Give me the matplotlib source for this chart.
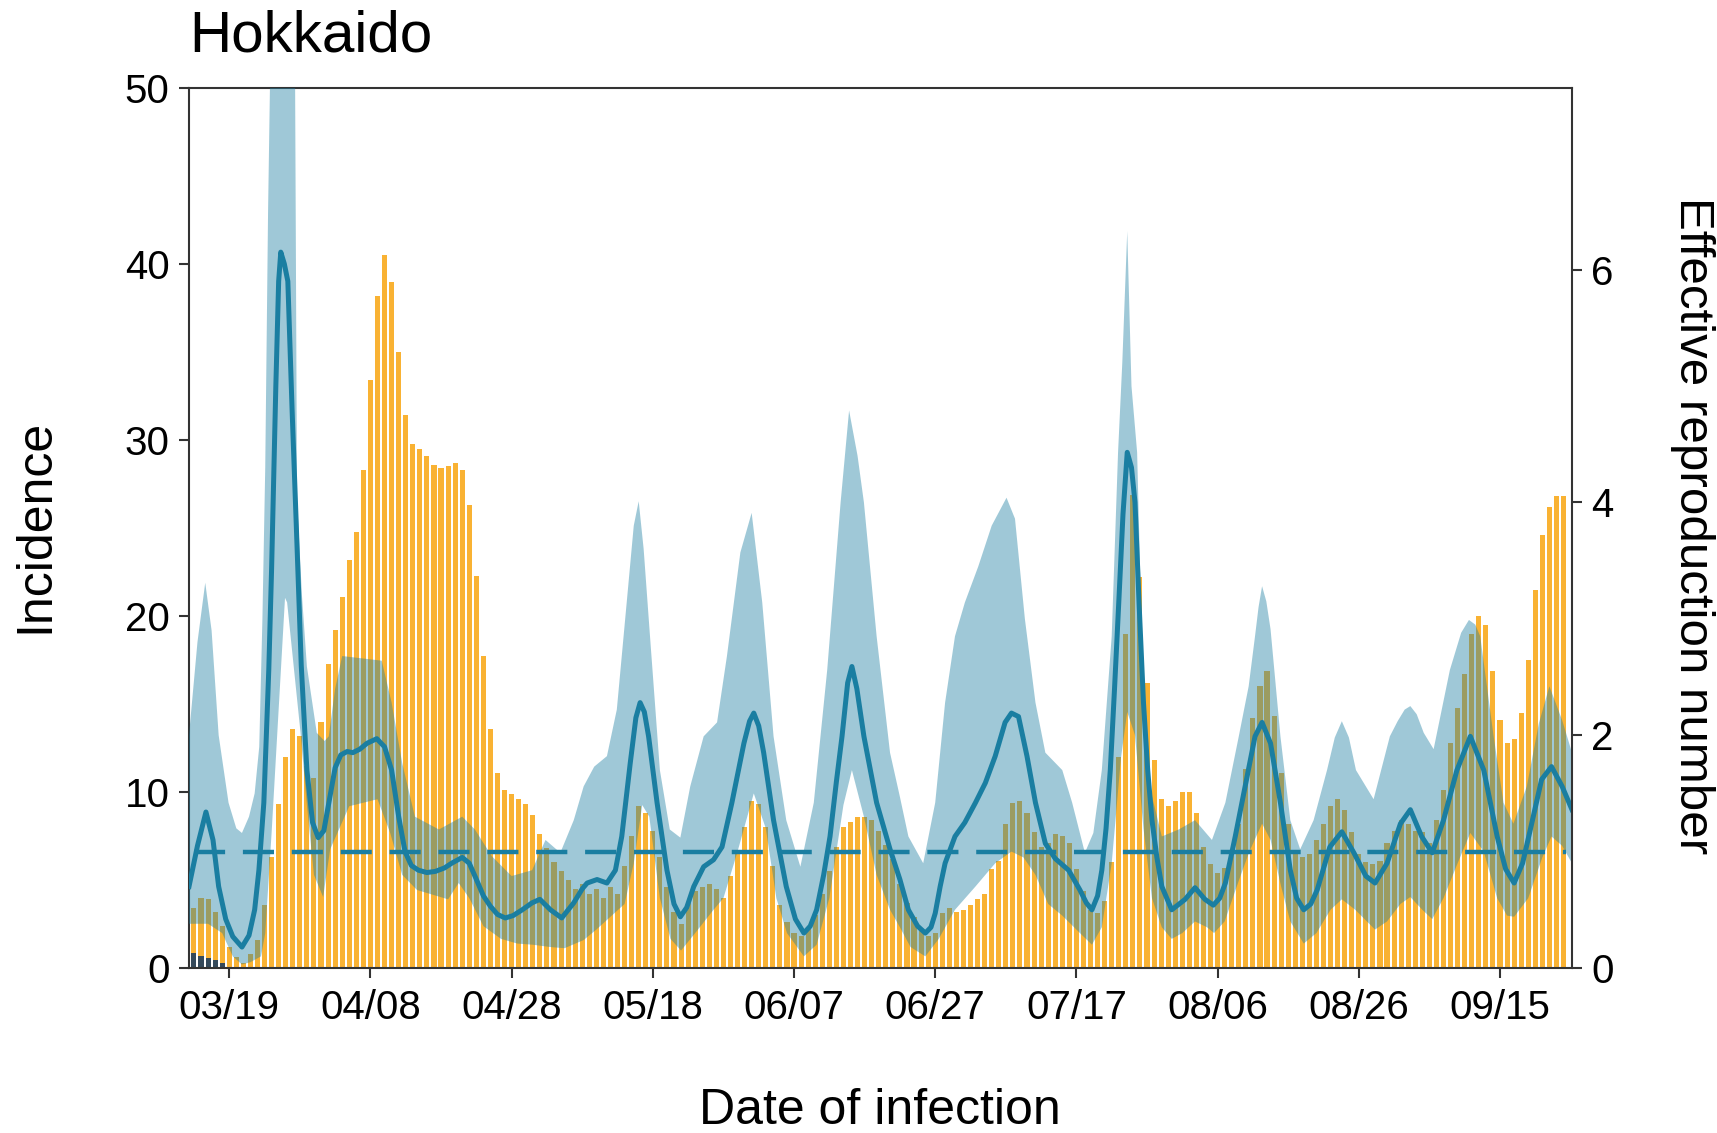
import datetime as dt
import matplotlib
matplotlib.use('Agg')
import matplotlib.pyplot as plt

plt.rcParams['font.family'] = ['Liberation Sans', 'DejaVu Sans']

# day 0 = 03/19
origin = dt.date(2020, 3, 19)

# daily incidence by date of infection (days -5 .. 189)
inc_day = list(range(-5, 190))
incidence = [
    3.4, 4.0, 3.9, 3.2, 2.4, 1.2, 0.6, 0.3, 0.8, 1.6,
    3.6, 6.3, 9.3, 12.0, 13.6, 13.2, 11.5, 10.8, 14.0, 17.3,
    19.2, 21.1, 23.2, 24.8, 28.3, 33.4, 38.2, 40.5, 39.0, 35.0,
    31.4, 29.8, 29.5, 29.1, 28.6, 28.4, 28.5, 28.7, 28.3, 26.3,
    22.3, 17.7, 13.6, 11.1, 10.1, 9.9, 9.6, 9.3, 8.7, 7.6,
    6.8, 6.0, 5.5, 5.0, 4.5, 4.8, 4.2, 4.5, 4.0, 4.6,
    4.2, 5.8, 7.5, 9.2, 8.8, 7.8, 6.3, 4.6, 3.2, 2.5,
    3.7, 4.4, 4.6, 4.8, 4.5, 4.0, 5.2, 6.5, 8.0, 9.5,
    9.3, 8.0, 5.8, 3.6, 2.6, 2.0, 1.8, 2.3, 3.0, 4.2,
    5.5, 6.9, 8.0, 8.3, 8.6, 8.6, 8.4, 7.8, 7.0, 6.2,
    4.8, 3.7, 2.9, 2.2, 1.8, 2.0, 3.1, 3.4, 3.2, 3.3,
    3.6, 3.9, 4.2, 5.6, 6.1, 8.2, 9.4, 9.5, 8.8, 7.7,
    6.9, 7.1, 7.6, 7.5, 7.1, 5.6, 4.4, 3.3, 3.1, 3.8,
    6.0, 12.0, 19.0, 26.9, 22.2, 16.2, 11.8, 9.6, 9.2, 9.5,
    10.0, 10.0, 8.8, 6.9, 5.9, 5.4, 5.7, 6.5, 8.2, 11.3,
    14.2, 16.0, 16.9, 14.3, 11.1, 8.2, 6.7, 6.3, 6.5, 7.3,
    8.2, 9.2, 9.6, 9.0, 7.7, 6.5, 6.0, 5.9, 6.1, 7.1,
    7.8, 8.4, 8.2, 7.8, 7.7, 7.1, 8.4, 10.1, 12.8, 14.8,
    16.7, 19.0, 20.0, 19.5, 16.9, 14.1, 12.8, 13.0, 14.5, 17.5,
    21.5, 24.6, 26.2, 26.8, 26.8,
]
# small dark bars at the very start
imp_day = [-5, -4, -3, -2, -1]
imported = [0.85, 0.7, 0.55, 0.45, 0.3]

# effective reproduction number (posterior mean)
rt_day = [-5.7, -4.5, -3.3, -2.3, -1.5, -0.5, 0.5, 1.8, 2.8, 3.6, 4.2, 4.9, 5.6, 6.0,
          6.6, 7.0, 7.3, 7.8, 8.3, 8.9, 9.5, 10.2, 11.0, 11.8, 12.6, 13.4, 14.2, 15.0,
          15.8, 16.7, 17.5, 18.5, 19.5, 20.9, 22.0, 23.0, 24.0, 24.9, 25.8, 26.8, 28.0,
          29.2, 30.5, 31.5, 33.0, 34.0, 34.8, 36.0, 37.0, 38.0, 39.1, 40.2, 41.5, 42.9,
          44.0, 45.5, 47.1, 48.8, 50.0, 50.7, 52.1, 53.5, 54.7, 55.6, 56.8, 57.6, 58.2,
          58.8, 59.4, 60.6, 62.0, 63.0, 63.9, 64.8, 65.8, 67.2, 68.6, 69.8, 71.2, 72.9,
          73.7, 74.3, 75.0, 75.7, 77.1, 78.9, 80.2, 81.4, 82.3, 83.2, 84.2, 85.1, 86.0,
          86.8, 87.6, 88.2, 88.9, 89.9, 91.7, 93.6, 95.0, 96.2, 97.5, 98.6, 99.4, 100.0,
          100.7, 101.4, 102.8, 104.2, 105.7, 107.1, 108.5, 109.9, 110.8, 111.8, 113.0,
          114.2, 115.6, 117.0, 118.9, 120.5, 121.4, 122.2, 123.0, 123.6, 124.2, 124.8,
          125.4, 126.0, 126.6, 127.2, 127.8, 128.3, 128.9, 129.5, 130.1, 130.7, 131.4,
          132.1, 133.5, 135.4, 136.8, 138.2, 139.4, 140.3, 141.1, 142.5, 143.9, 145.3,
          146.3, 147.5, 148.9, 150.3, 151.2, 152.2, 153.2, 154.1, 155.9, 157.6, 159.3,
          161.0, 162.3, 164.0, 165.9, 167.3, 168.9, 170.4, 172.0, 173.9, 175.8, 177.7,
          179.6, 180.8, 182.0, 183.2, 184.3, 185.9, 187.3, 188.8, 190.2]
rt_mean = [0.70, 1.05, 1.34, 1.10, 0.70, 0.42, 0.27, 0.18, 0.28, 0.50, 0.84, 1.42, 2.56, 3.43,
           5.00, 5.90, 6.15, 6.05, 5.90, 4.80, 3.80, 2.60, 1.70, 1.25, 1.12, 1.18, 1.45, 1.72,
           1.83, 1.86, 1.85, 1.88, 1.93, 1.97, 1.90, 1.70, 1.30, 1.00, 0.88, 0.84, 0.82,
           0.83, 0.86, 0.90, 0.95, 0.90, 0.79, 0.62, 0.53, 0.46, 0.43, 0.45, 0.50, 0.56,
           0.59, 0.50, 0.43, 0.56, 0.68, 0.73, 0.76, 0.73, 0.84, 1.13, 1.76, 2.15, 2.28,
           2.20, 1.99, 1.42, 0.84, 0.55, 0.44, 0.52, 0.70, 0.87, 0.93, 1.04, 1.42, 1.93,
           2.12, 2.19, 2.08, 1.85, 1.27, 0.70, 0.42, 0.30, 0.36, 0.50, 0.80, 1.13, 1.60,
           1.99, 2.45, 2.59, 2.40, 1.99, 1.42, 1.02, 0.76, 0.50, 0.36, 0.30, 0.35, 0.47,
           0.70, 0.90, 1.13, 1.25, 1.42, 1.59, 1.82, 2.11, 2.19, 2.16, 1.82,
           1.42, 1.07, 0.94, 0.84, 0.67, 0.56, 0.50, 0.62, 0.84, 1.20, 1.70,
           2.40, 3.14, 3.90, 4.43, 4.30, 4.00, 3.10, 2.28, 1.70, 1.27, 0.95,
           0.70, 0.50, 0.59, 0.69, 0.59, 0.54, 0.60, 0.73, 1.13, 1.56, 1.99,
           2.11, 1.93, 1.42, 0.84, 0.60, 0.50, 0.55, 0.67, 1.04, 1.17, 0.99,
           0.79, 0.73, 0.90, 1.24, 1.36, 1.13, 0.99, 1.27, 1.70, 1.99, 1.70,
           1.13, 0.85, 0.73, 0.90, 1.19, 1.62, 1.73, 1.56, 1.36]

# credible band, upper bound
hi_day = [-5.7, -4.5, -3.4, -2.5, -1.5, -0.1, 1.0, 1.8, 2.8, 3.6, 4.25, 4.7, 5.1, 5.5, 6.0,
          7.0, 8.5, 9.3, 9.6, 10.3, 11.0, 12.4, 13.5, 14.1, 15.0, 16.0, 18.8, 21.6, 23.0,
          24.5, 26.3, 29.7, 33.0, 34.8, 37.2, 40.0, 42.9, 44.8, 46.9, 48.8, 50.2, 51.7,
          53.5, 54.9, 56.3, 57.3, 58.0, 58.7, 59.6, 61.0, 62.4, 63.9, 65.3, 67.2, 69.1,
          70.5, 72.4, 74.0, 75.5, 77.1, 78.9, 80.9, 82.8, 84.7, 86.6, 87.8, 89.0, 89.9,
          91.7, 93.6, 95.0, 96.2, 98.3, 100.0, 101.4, 102.8, 104.2, 106.1, 108.0, 110.1,
          111.3, 112.7, 114.2, 115.6, 118.0, 119.4, 121.2, 122.4, 123.6, 125.0, 125.9,
          126.5, 127.2, 127.8, 128.6, 129.2, 130.2, 132.1, 134.5, 136.8, 139.2, 141.1,
          143.0, 144.4, 145.3, 145.8, 146.3, 146.9, 147.5, 148.9, 150.3, 151.7, 153.6,
          155.5, 156.6, 157.6, 158.6, 159.6, 162.1, 164.4, 165.5, 166.5, 167.3, 168.2,
          169.2, 170.6, 172.9, 174.5, 175.6, 176.5, 177.2, 179.1, 180.5, 181.9, 183.8,
          185.5, 187.0, 188.8, 190.2]
hi = [2.00, 2.80, 3.31, 2.90, 2.00, 1.42, 1.20, 1.16, 1.30, 1.50, 1.90, 3.00, 4.30, 6.50, 8.50,
      10.0, 10.0, 8.00, 4.03, 3.20, 2.59, 2.02, 1.95, 1.99, 2.40, 2.68, 2.66, 2.64, 2.28,
      1.76, 1.30, 1.19, 1.30, 1.19, 0.96, 0.79, 0.84, 1.10, 0.99, 1.27, 1.56, 1.73,
      1.82, 2.22, 3.14, 3.80, 4.01, 3.60, 2.85, 1.70, 1.19, 1.12, 1.56, 1.99, 2.11,
      2.68, 3.57, 3.91, 3.14, 1.99, 1.27, 0.87, 1.42, 2.56, 4.00, 4.79, 4.40, 4.00,
      2.85, 1.85, 1.47, 1.13, 0.90, 1.42, 2.28, 2.85, 3.14, 3.45, 3.80, 4.04,
      3.86, 3.00, 2.28, 1.85, 1.70, 1.42, 0.99, 1.16, 1.70, 2.85, 4.43,
      5.20, 6.33, 5.00, 4.43, 3.00, 1.60, 1.13, 1.19, 1.27, 1.10, 1.42,
      1.99, 2.42, 2.85, 3.10, 3.28, 3.15, 2.91, 1.99, 1.27, 1.02, 1.27,
      1.70, 1.98, 2.12, 1.98, 1.70, 1.45, 1.99, 2.12, 2.22, 2.25, 2.18,
      2.02, 1.88, 2.56, 2.88, 2.99, 2.95, 2.85, 1.99, 1.42, 1.24, 1.56,
      2.10, 2.42, 2.13, 1.85]

# credible band, lower bound
lo_day = [-5.7, -3.0, -1.0, 0.5, 1.8, 3.0, 4.5, 5.1, 6.0, 7.9, 8.2, 10.1, 11.0, 12.0, 13.3,
          14.3, 17.0, 21.0, 22.8, 24.5, 26.6, 31.0, 32.5, 34.0, 36.0, 38.5, 40.8, 43.0,
          45.5, 47.5, 50.2, 52.0, 54.0, 56.0, 57.3, 58.5, 59.5, 61.0, 62.5, 64.0, 66.0,
          68.6, 70.0, 72.0, 74.3, 76.0, 77.5, 79.0, 81.4, 83.2, 85.0, 87.0, 88.2, 89.9,
          91.7, 93.6, 95.0, 96.5, 98.6, 100.5, 102.8, 105.7, 108.5, 110.8, 112.5, 114.2,
          116.0, 118.0, 120.5, 122.2, 123.6, 125.0, 126.3, 127.2, 128.3, 129.5, 130.7,
          132.1, 133.5, 135.0, 136.8, 138.5, 139.5, 141.0, 143.0, 144.5, 146.3, 147.5,
          149.0, 150.3, 152.2, 154.0, 156.0, 157.6, 159.5, 162.3, 164.0, 165.9, 167.3,
          169.0, 170.4, 172.0, 174.0, 175.8, 177.7, 179.6, 181.0, 182.0, 184.0, 186.0,
          187.3, 188.8, 190.2]
lo = [0.38, 0.38, 0.30, 0.10, 0.03, 0.05, 0.10, 0.30, 1.16, 3.18, 3.14, 2.02, 1.40, 0.80, 0.61,
      1.02, 1.39, 1.45, 1.16, 0.80, 0.67, 0.59, 0.73, 0.60, 0.36, 0.25, 0.21, 0.20,
      0.18, 0.17, 0.24, 0.33, 0.44, 0.55, 0.90, 1.40, 1.30, 0.60, 0.25, 0.15, 0.30,
      0.50, 0.60, 1.00, 1.50, 1.20, 0.60, 0.30, 0.10, 0.20, 0.60, 1.40, 1.70, 1.30,
      0.80, 0.50, 0.35, 0.18, 0.10, 0.25, 0.50, 0.70, 0.90, 1.00, 0.95, 0.80,
      0.55, 0.45, 0.30, 0.20, 0.35, 0.90, 1.80, 2.20, 2.00, 1.20, 0.60,
      0.35, 0.25, 0.30, 0.40, 0.35, 0.30, 0.40, 0.75, 1.00, 1.24, 1.10,
      0.70, 0.40, 0.21, 0.30, 0.50, 0.59, 0.50, 0.33, 0.40, 0.55, 0.61,
      0.50, 0.42, 0.60, 0.90, 1.16, 1.00, 0.60, 0.45, 0.44, 0.60, 0.95,
      1.13, 1.05, 0.90]

tick_days = [0, 20, 40, 60, 80, 100, 120, 140, 160, 180]
tick_labels = [(origin + dt.timedelta(days=d)).strftime('%m/%d') for d in tick_days]

ORANGE = '#F9B233'
TEAL = '#1A7EA1'

fig = plt.figure(figsize=(17.17, 11.33), dpi=100)
rect = [189 / 1717, 1 - 968 / 1133, (1572 - 189) / 1717, (968 - 88) / 1133]

# incidence bars
ax = fig.add_axes(rect)
ax.bar(inc_day, incidence, width=0.72, color=ORANGE, lw=0)
ax.bar(imp_day, imported, width=0.72, color='#34495A', lw=0)
ax.set_ylim(0, 50)
ax.set_yticks([0, 10, 20, 30, 40, 50])
ax.set_xlim(-5.7, 190.2)
ax.set_xticks(tick_days)
ax.set_xticklabels(tick_labels)

# Rt band, mean and threshold on top
ax_rt = fig.add_axes(rect, sharex=ax)
ax_rt.patch.set_visible(False)
ax_rt.fill(hi_day + lo_day[::-1], hi + lo[::-1], color=TEAL, alpha=0.42, lw=0)
ax_rt.plot(rt_day, rt_mean, color=TEAL, lw=3.6, solid_joinstyle='round')
ax_rt.hlines(1, -5, 189.3, color=TEAL, lw=3.2, linestyles=(0, (7, 4)))
ax_rt.set_ylim(0, 7.56)
ax_rt.set_yticks([0, 2, 4, 6])
ax_rt.yaxis.tick_right()
ax_rt.tick_params(axis='x', bottom=False, labelbottom=False)
for s in ['left', 'top', 'bottom']:
    ax_rt.spines[s].set_visible(False)
ax_rt.spines['right'].set_linewidth(1.5)
ax_rt.spines['right'].set_color('#333333')

for s in ax.spines.values():
    s.set_linewidth(1.5)
    s.set_color('#333333')
ax.spines['right'].set_visible(False)

ax.tick_params(length=7, width=1.5, labelsize=29, pad=7, color='#333333')
ax.tick_params(axis='x', pad=8)
ax_rt.tick_params(length=7, width=1.5, labelsize=29, pad=7, color='#333333')

fig.text(189 / 1717, 1 - 36 / 1133, 'Hokkaido', fontsize=42, ha='left', va='center')
fig.text(35 / 1717, 1 - 526 / 1133, 'Incidence', fontsize=36, rotation=90,
         ha='center', va='center')
fig.text(1692 / 1717, 1 - 526 / 1133, 'Effective reproduction number', fontsize=35.5,
         rotation=270, ha='center', va='center')
fig.text(880 / 1717, 1 - 1111 / 1133, 'Date of infection', fontsize=36,
         ha='center', va='center')

fig.savefig('out.png', dpi=100)
